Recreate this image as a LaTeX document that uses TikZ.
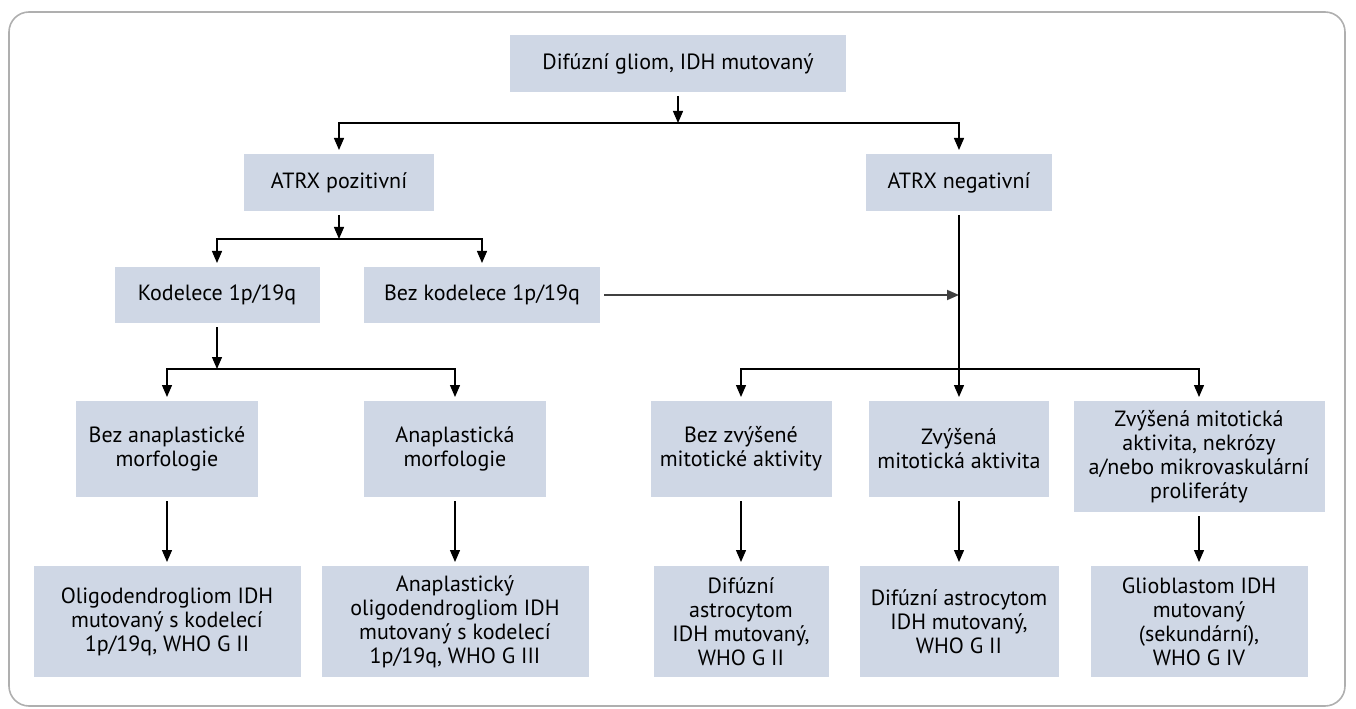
\documentclass[tikz,border=0pt]{standalone}
\usepackage{fontspec}
\setmainfont{PT Sans}
\usetikzlibrary{arrows.meta,calc}
\definecolor{boxblue}{RGB}{207,215,229}
\definecolor{framegray}{RGB}{175,175,175}
\tikzset{
  >={Triangle[length=9pt,width=7.5pt]},
}

\begin{document}
\begin{tikzpicture}[x=0.75pt, y=-0.75pt,
    box/.style={fill=boxblue, align=center, inner sep=0pt, outer sep=3pt,
                font=\fontsize{16.5}{18}\selectfont},
    link/.style={->, line width=1pt}]
  \useasboundingbox (0,0) rectangle (1356,709);
  \draw [framegray, line width=1.2pt, rounded corners=15pt] (9,12) rectangle (1345,706);

  % top levels
  \node [box, minimum width=252pt, minimum height=42.75pt] (idh) at (678,63.5)
        {Difúzní gliom, IDH mutovaný};
  \node [box, minimum width=142.5pt, minimum height=42.75pt] (atrxpos) at (339,182.5)
        {ATRX pozitivní};
  \node [box, minimum width=139.5pt, minimum height=42.75pt] (atrxneg) at (959,182.5)
        {ATRX negativní};
  \node [box, minimum width=153.75pt, minimum height=42pt] (kodel) at (217,295)
        {Kodelece 1p/19q};
  \node [box, minimum width=177pt, minimum height=42pt] (bezkod) at (482,295)
        {Bez kodelece 1p/19q};

  % morphology / mitotic activity
  \node [box, minimum width=136.5pt, minimum height=72pt] (bezanapl) at (167,449)
        {Bez anaplastické\\morfologie};
  \node [box, minimum width=136.5pt, minimum height=72pt] (anapl) at (455,449)
        {Anaplastická\\morfologie};
  \node [box, minimum width=135.75pt, minimum height=72pt] (bezzvys) at (741,449)
        {Bez zvýšené\\mitotické aktivity};
  \node [box, minimum width=135pt, minimum height=72pt] (zvys) at (959,449)
        {Zvýšená\\mitotická aktivita};
  \node [box, minimum width=188.25pt, minimum height=83.25pt] (necro) at (1199,456.5)
        {Zvýšená mitotická\\aktivita, nekrózy\\a/nebo mikrovaskulární\\proliferáty};

  % diagnoses
  \node [box, minimum width=200.25pt, minimum height=83.25pt] (oligo) at (167,621.5)
        {Oligodendrogliom IDH\\mutovaný s kodelecí\\1p/19q, WHO G II};
  \node [box, minimum width=200.25pt, minimum height=83.25pt] (anoligo) at (455,621.5)
        {Anaplastický\\oligodendrogliom IDH\\mutovaný s kodelecí\\1p/19q, WHO G III};
  \node [box, minimum width=131.25pt, minimum height=83.25pt] (astro) at (741,621.5)
        {Difúzní\\astrocytom\\IDH mutovaný,\\WHO G II};
  \node [box, minimum width=149.25pt, minimum height=83.25pt] (astrob) at (959,621.5)
        {Difúzní astrocytom\\IDH mutovaný,\\WHO G II};
  \node [box, minimum width=162.75pt, minimum height=83.25pt] (glio) at (1199,621.5)
        {Glioblastom IDH\\mutovaný\\(sekundární),\\WHO G IV};

  \coordinate (split1) at (678,123);
  \coordinate (split2) at (339,239);
  \coordinate (split3) at (959,369);
  \coordinate (split4) at (217,369);
  \coordinate (join) at (atrxneg |- bezkod);

  \draw [link] (idh) -- (split1);
  \draw [link] (split1) -| (atrxpos);
  \draw [link] (split1) -| (atrxneg);
  \draw [link] (atrxpos) -- (split2);
  \draw [link] (split2) -| (kodel);
  \draw [link] (split2) -| (bezkod);
  \draw [link, draw=black!75, line width=1.4pt] (bezkod) -- (join);
  \draw [link] (atrxneg) -- (zvys);
  \draw [link] (split3) -| (bezzvys);
  \draw [link] (split3) -| (necro);
  \draw [link] (kodel) -- (split4);
  \draw [link] (split4) -| (bezanapl);
  \draw [link] (split4) -| (anapl);

  \draw [link] (bezanapl) -- (oligo);
  \draw [link] (anapl) -- (anoligo);
  \draw [link] (bezzvys) -- (astro);
  \draw [link] (zvys) -- (astrob);
  \draw [link] (necro) -- (glio);
\end{tikzpicture}
\end{document}
